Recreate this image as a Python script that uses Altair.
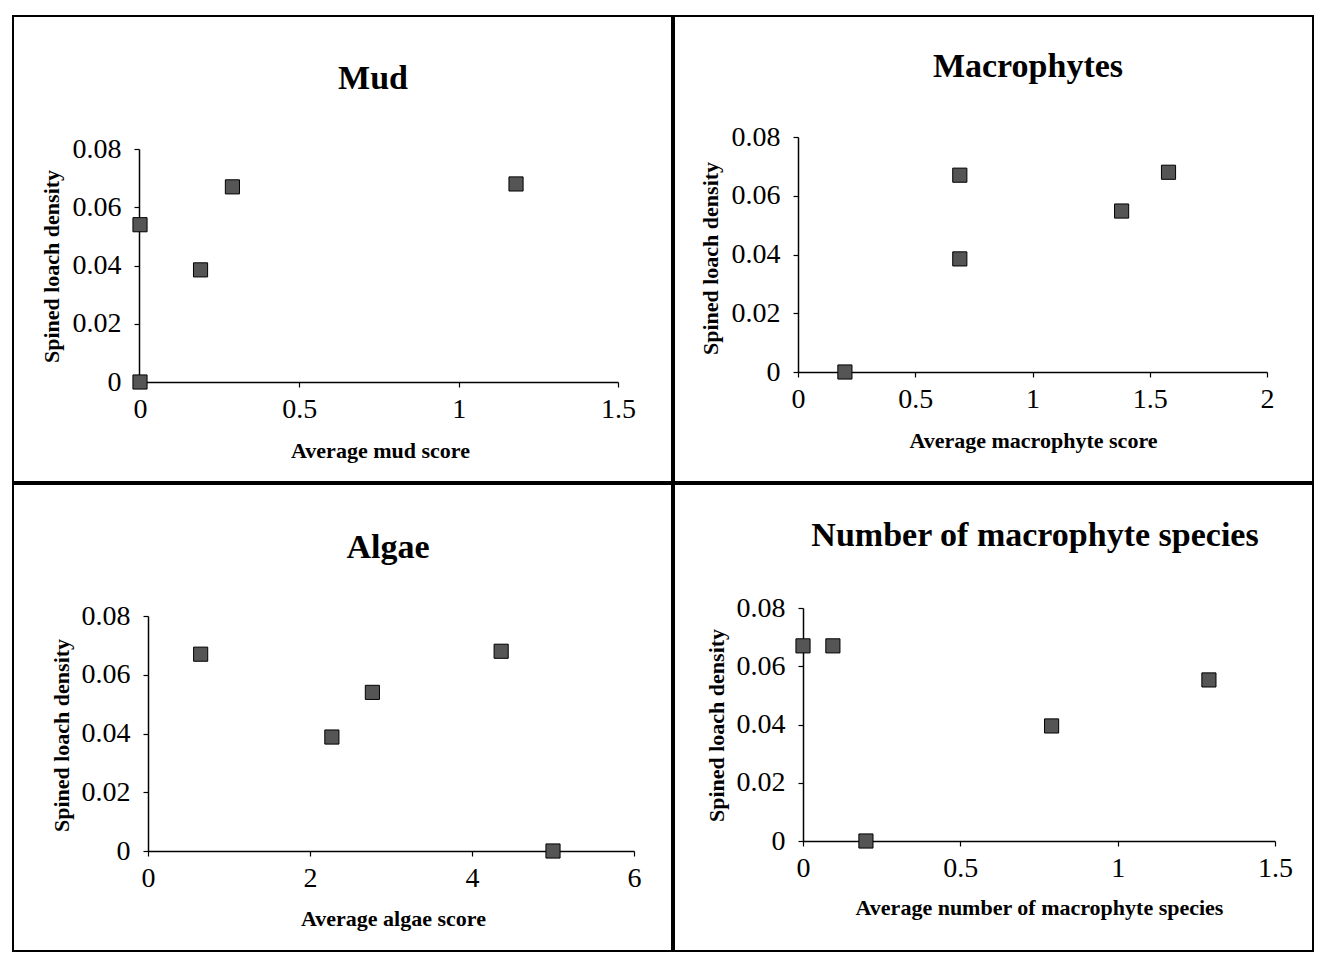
import altair as alt
import pandas as pd

# ---- data (5 sites per panel) ----
mud_score = [0.0, 0.0, 0.19, 0.29, 1.18]
mud_density = [0.054, 0.0, 0.0385, 0.067, 0.068]

macro_score = [0.2, 0.69, 0.69, 1.38, 1.58]
macro_density = [0.0, 0.067, 0.0385, 0.0548, 0.068]

algae_score = [0.65, 2.27, 2.77, 4.36, 5.0]
algae_density = [0.067, 0.0388, 0.054, 0.068, 0.0]

species_number = [0.0, 0.095, 0.2, 0.79, 1.29]
species_density = [0.067, 0.067, 0.0, 0.0395, 0.0553]

panel_titles = ["Mud", "Macrophytes", "Algae", "Number of macrophyte species"]
x_titles = ["Average mud score", "Average macrophyte score",
            "Average algae score", "Average number of macrophyte species"]
y_title = "Spined loach density"
x_domains = [[0, 1.5], [0, 2], [0, 6], [0, 1.5]]
x_ticks = [[0, 0.5, 1, 1.5], [0, 0.5, 1, 1.5, 2], [0, 2, 4, 6], [0, 0.5, 1, 1.5]]
y_domain = [0, 0.08]
y_ticks = [0, 0.02, 0.04, 0.06, 0.08]

SERIF = "Liberation Serif"


def panel(xs, ys, title, xtitle, xdom, xtick, geo):
    W, H = geo["W"], geo["H"]
    x0, x1 = geo["xr"]
    y0, y1 = geo["yr"]
    df = pd.DataFrame({"x": xs, "y": ys})
    pts = alt.Chart(df).mark_square(
        size=200, fill="#555555", stroke="#000000", strokeWidth=1, opacity=1
    ).encode(
        x=alt.X("x:Q",
                scale=alt.Scale(domain=xdom, range=[x0, x1], nice=False, zero=False),
                axis=alt.Axis(values=xtick, format="~g", title=xtitle,
                              orient="bottom", offset=-(H - y0),
                              grid=False, domainColor="#000", domainWidth=1.5,
                              tickColor="#000", tickSize=5, tickWidth=1.2,
                              labelFont=SERIF, labelFontSize=28, labelColor="#000",
                              labelPadding=8, labelFlush=False, labelOverlap=False,
                              titleFont=SERIF, titleFontSize=22, titleFontWeight="bold",
                              titleColor="#000", titleX=geo["xtx"], titleY=geo["xty"],
                              titleBaseline="alphabetic", titleAnchor="middle",
                              titleAlign="center")),
        y=alt.Y("y:Q",
                scale=alt.Scale(domain=y_domain, range=[y0, y1], nice=False, zero=False),
                axis=alt.Axis(values=y_ticks, format="~g", title=y_title,
                              orient="left", offset=-geo["ax"],
                              grid=False, domainColor="#000", domainWidth=1.5,
                              tickColor="#000", tickSize=5, tickWidth=1.2,
                              labelFont=SERIF, labelFontSize=28, labelColor="#000",
                              labelPadding=13, labelFlush=False, labelOverlap=False,
                              titleFont=SERIF, titleFontSize=22, titleFontWeight="bold",
                              titleColor="#000", titleX=geo["ytx"], titleY=geo["yty"],
                              titleBaseline="middle", titleAngle=270,
                              titleAlign="center")),
    )
    head = alt.Chart(pd.DataFrame({"t": [title]})).mark_text(
        font=SERIF, fontSize=34, fontWeight="bold", color="#000",
        align="center", baseline="alphabetic"
    ).encode(
        x=alt.value(geo["tx"]), y=alt.value(geo["ty"]), text="t:N"
    )
    return alt.layer(pts, head).properties(width=W, height=H)


geos = [
    dict(W=659, H=466, xr=[127, 605], yr=[366, 133], ax=126,
         xtx=367, xty=75, ytx=-88, yty=250, tx=360, ty=73),
    dict(W=639, H=466, xr=[124, 593], yr=[356, 121], ax=124,
         xtx=359, xty=75, ytx=-88, yty=242, tx=354, ty=61),
    dict(W=659, H=467, xr=[135, 621], yr=[367, 132], ax=135,
         xtx=380, xty=74, ytx=-87, yty=251, tx=375, ty=74),
    dict(W=639, H=467, xr=[129, 601], yr=[357, 124], ax=129,
         xtx=365, xty=73, ytx=-87, yty=241, tx=361, ty=62),
]

p1 = panel(mud_score, mud_density, panel_titles[0], x_titles[0], x_domains[0], x_ticks[0], geos[0])
p2 = panel(macro_score, macro_density, panel_titles[1], x_titles[1], x_domains[1], x_ticks[1], geos[1])
p3 = panel(algae_score, algae_density, panel_titles[2], x_titles[2], x_domains[2], x_ticks[2], geos[2])
p4 = panel(species_number, species_density, panel_titles[3], x_titles[3], x_domains[3], x_ticks[3], geos[3])

chart = alt.vconcat(
    alt.hconcat(p1, p2, spacing=0),
    alt.hconcat(p3, p4, spacing=0),
    spacing=0,
).properties(
    padding={"left": 4, "top": 7, "right": 0, "bottom": 0},
    background="white",
).configure_view(
    stroke="#000000", strokeWidth=2, fill="white"
).configure_concat(spacing=0)

chart.save("out.html", embed_options={"renderer": "svg", "actions": False})
